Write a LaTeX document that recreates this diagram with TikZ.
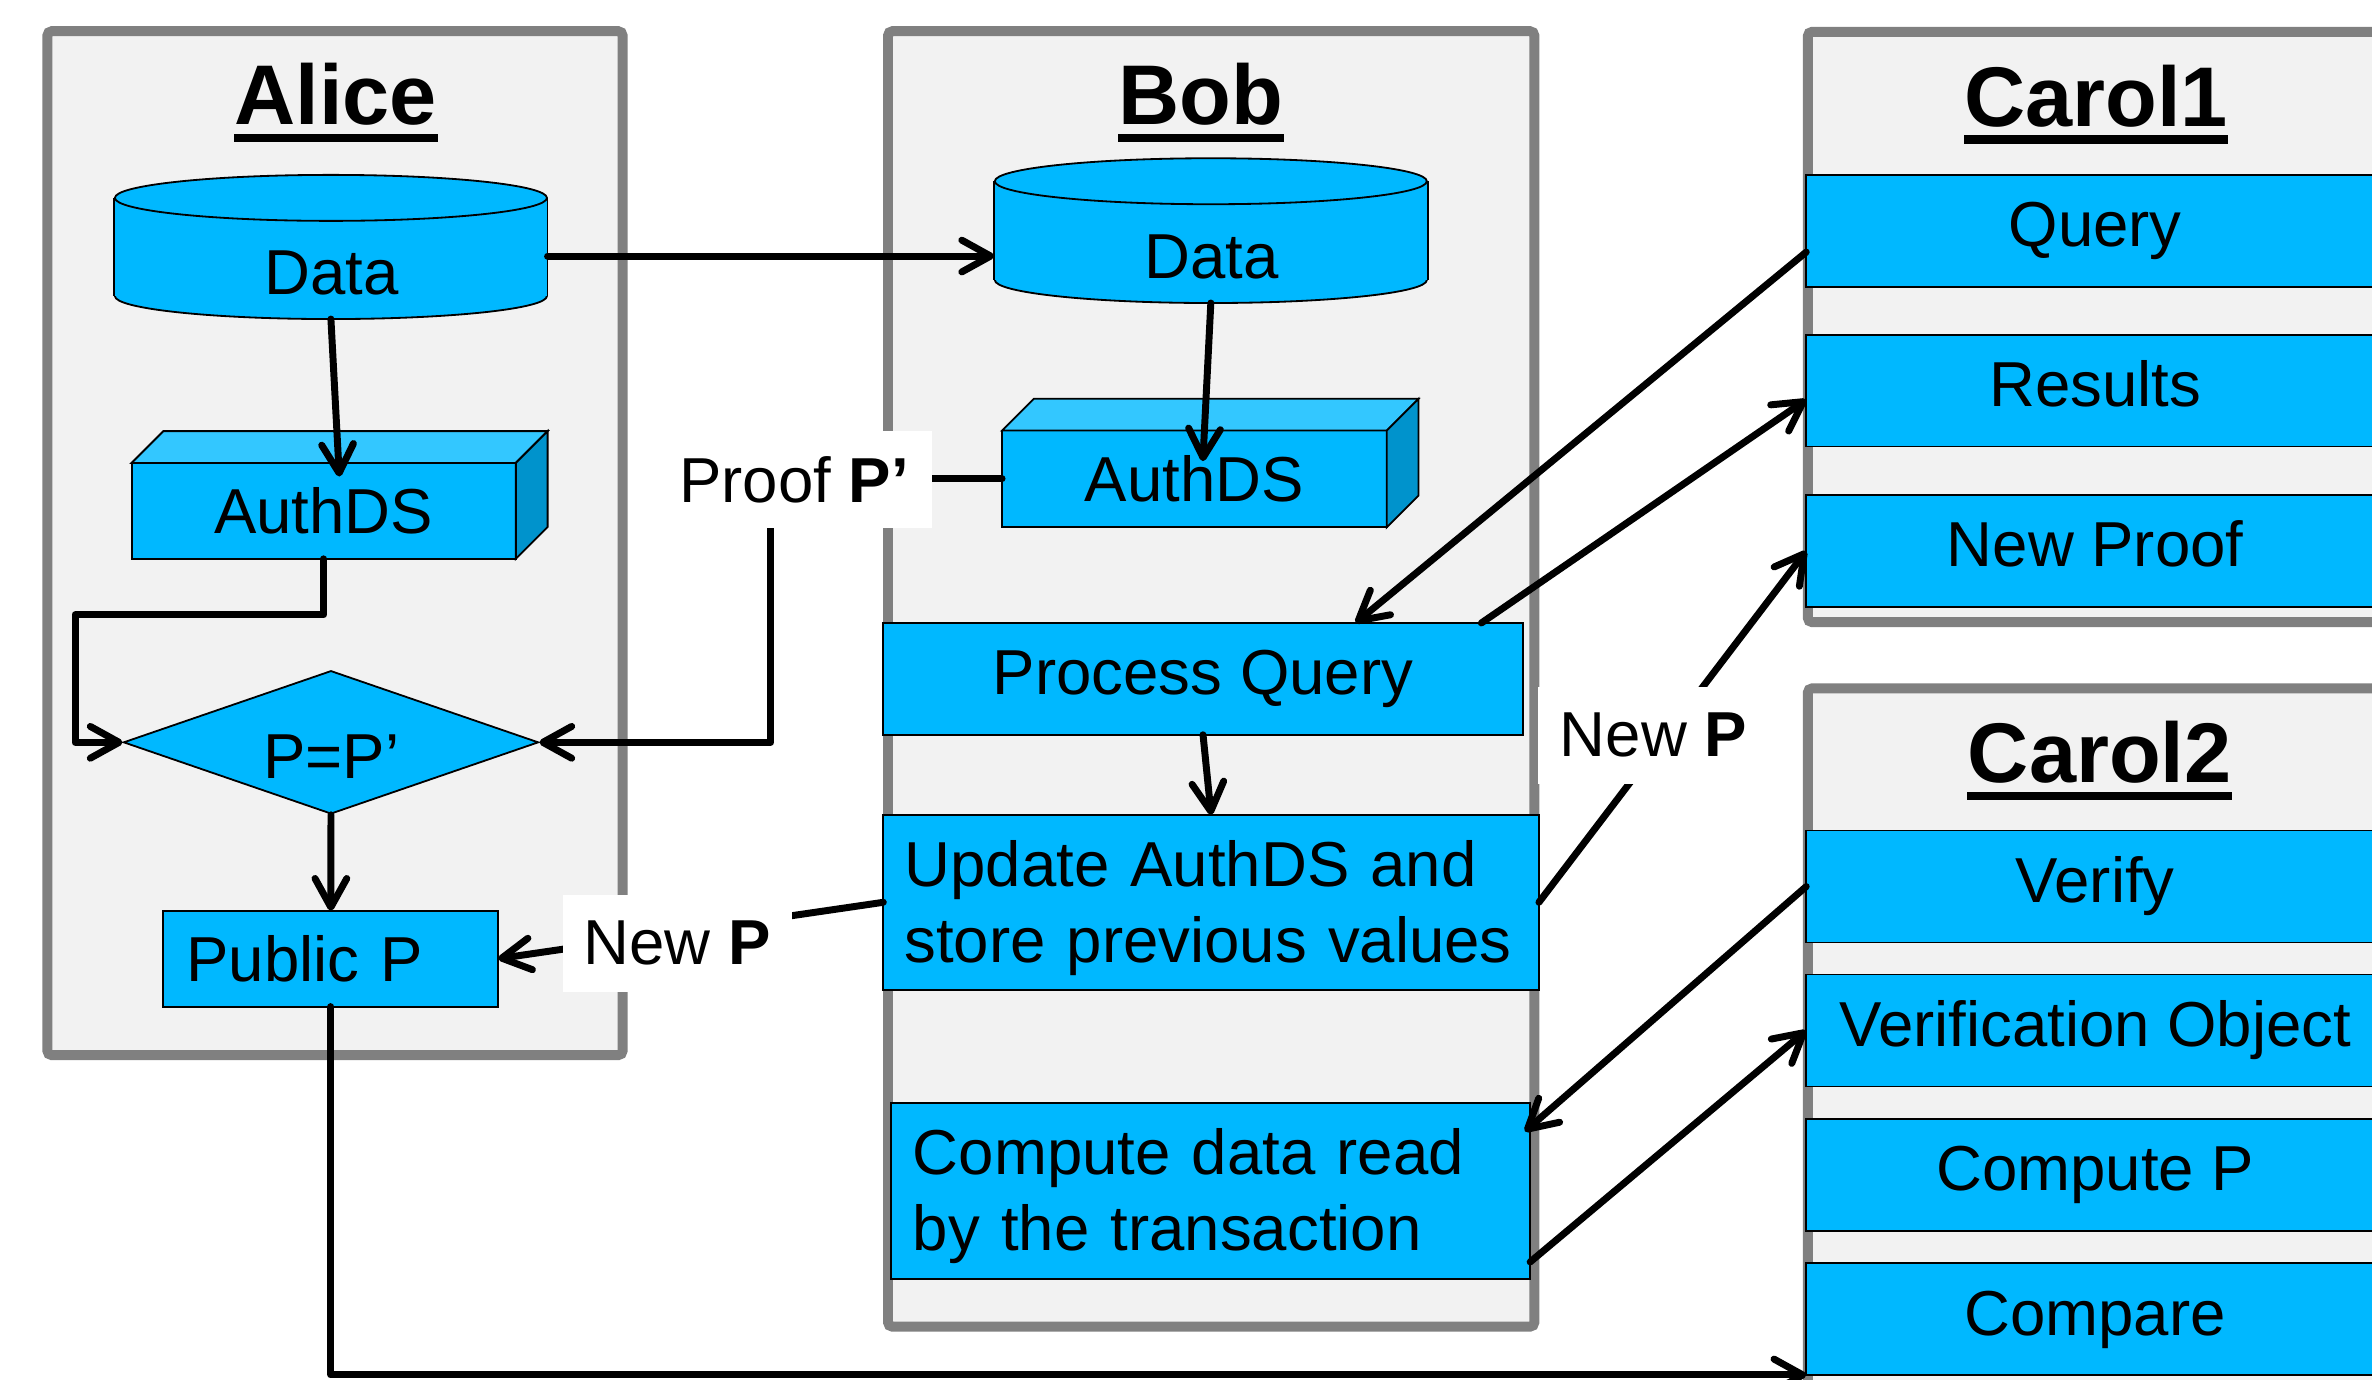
\documentclass[tikz,border=0pt]{standalone}
\usepackage{fontspec}
\setmainfont{Liberation Sans}
\usetikzlibrary{arrows.meta,calc,shapes.geometric}
\definecolor{boxc}{RGB}{0,184,255}
\definecolor{topc}{RGB}{51,199,255}
\definecolor{sidec}{RGB}{0,147,204}
\definecolor{framefill}{RGB}{242,242,242}
\definecolor{framedraw}{RGB}{128,128,128}

\newcommand{\cylfig}[1]{%
  \fill[boxc] ($(#1.south)+(0,-15.2)$) ellipse [x radius=71.4pt, y radius=7.6pt];
  \draw[thinb] ($(#1.south)+(0,-15.2)$) ellipse [x radius=71.4pt, y radius=7.6pt];
  \fill[boxc] ($(#1.north west)+(0,15.2)$) rectangle ($(#1.south east)+(0,-15.2)$);
  \draw[thinb] ($(#1.north west)+(0,15.2)$) -- ($(#1.south west)+(0,-15.2)$);
  \draw[thinb] ($(#1.north east)+(0,15.2)$) -- ($(#1.south east)+(0,-15.2)$);
  \filldraw[thinb, fill=boxc] ($(#1.north)+(0,15.2)$) ellipse [x radius=71.4pt, y radius=7.6pt];
}
\newcommand{\cubefaces}[1]{%
  \filldraw[thinb, fill=topc] (#1.north west) -- ++(21,-21) -- ($(#1.north east)+(21,-21)$) -- (#1.north east) -- cycle;
  \filldraw[thinb, fill=sidec] (#1.north east) -- ++(21,-21) -- ($(#1.south east)+(21,-21)$) -- (#1.south east) -- cycle;
}
\newcommand{\ultitle}[4]{%
  \node[titlef, anchor=base] (#1) at (#2,#3) {#4};
  \fill ([yshift=-3pt]#1.base west) rectangle ([yshift=-5.8pt]#1.base east);
}
\newcommand{\firststrut}{\rule{0pt}{19pt}}

\begin{document}
\begin{tikzpicture}[x=0.5pt,y=-0.5pt,
  frame/.style={draw=framedraw, fill=framefill, line width=3.3pt, rounded corners=1.5pt},
  thinb/.style={draw=black, line width=0.6pt},
  box/.style={thinb, fill=boxc, inner sep=0pt, outer sep=0pt, font=\fontsize{21}{25}\selectfont},
  stepbox/.style={box, text height=15.4pt, text depth=4.8pt},
  txt/.style={inner sep=0pt, font=\fontsize{21}{25}\selectfont},
  lbl/.style={fill=white, inner sep=0pt, minimum height=32pt, font=\fontsize{21}{25}\selectfont},
  titlef/.style={inner sep=0pt, font=\fontsize{28}{32}\selectfont\bfseries},
  arr/.style={line width=2.3pt, line cap=round, line join=round, -{Straight Barb[length=9.5pt,width=10.5pt,round]}}
]
\useasboundingbox (0,0) rectangle (1568,912);
\fill[white] (0,0) rectangle (1568,912);
\clip (0,0) rectangle (1568,912);

% frames
\draw[frame] (31.3,20.6) rectangle (411.6,697.5);
\draw[frame] (587,20.6) rectangle (1014.3,877);
\draw[frame] (1195,21) rectangle (1585,411.3);
\draw[frame] (1195,455) rectangle (1585,960);

% titles
\ultitle{talice}{222}{82.5}{Alice}
\ultitle{tbob}{794}{82.5}{Bob}
\ultitle{tcarolone}{1385.5}{83.5}{Carol1}
\ultitle{tcaroltwo}{1388}{517.4}{Carol2}

% Alice
\node[minimum width=142.8pt, minimum height=47.25pt, inner sep=0pt] (adata) at (218.75,163.25) {};
\cylfig{adata}
\node[txt, anchor=base] (adatat) at (219,194.8) {Data};
\node[box, minimum width=127pt, minimum height=31.7pt] (aauth) at (214,337.7) {AuthDS};
\cubefaces{aauth}
\node[thinb, fill=boxc, shape=diamond, minimum width=137.2pt, minimum height=47.35pt, inner sep=0pt] (dia) at (218.8,490.7) {};
\node[txt, anchor=base] (diat) at (219,514.5) {P=P’};
\node[box, minimum height=31.7pt, text width=95.4pt, inner xsep=7.65pt, align=left] (publicp) at (218.7,633.7) {Public P};

% Bob
\node[minimum width=142.9pt, minimum height=47.45pt, inner sep=0pt] (bdata) at (800.4,152.45) {};
\cylfig{bdata}
\node[txt, anchor=base] (bdatat) at (800.8,184.2) {Data};
\node[box, minimum width=127.15pt, minimum height=32pt] (bauth) at (789.55,316.6) {AuthDS};
\cubefaces{bauth}
\node[stepbox, minimum width=211.35pt, minimum height=36.95pt] (pq) at (795.25,448.75) {Process Query};
\node[box, text width=202.7pt, inner xsep=7pt, minimum height=57.85pt, align=left] (upd) at (800.6,596.45) {\firststrut Update AuthDS and\\store previous values};
\node[box, text width=196.85pt, inner xsep=7.15pt, minimum height=58.15pt, align=left] (comp) at (800.35,787.05) {\firststrut Compute data read\\by the transaction};

% Carol1
\node[stepbox, minimum width=191pt, minimum height=37pt] (query) at (1385,152.6) {Query};
\node[stepbox, minimum width=191pt, minimum height=37pt] (results) at (1385,258.2) {Results};
\node[stepbox, minimum width=191pt, minimum height=37pt] (newproof) at (1385,364.2) {New Proof};
% Carol2
\node[stepbox, minimum width=191pt, minimum height=37pt] (verify) at (1385,586) {Verify};
\node[stepbox, minimum width=191pt, minimum height=37pt] (vobj) at (1385,681.2) {Verification Object};
\node[stepbox, minimum width=191pt, minimum height=37pt] (computep) at (1385,776.5) {Compute P};
\node[stepbox, minimum width=191pt, minimum height=37pt] (compare) at (1385,871.9) {Compare};

% connectors
\coordinate (dl) at ([yshift=-3pt]adata.east);
\draw[arr] (dl) -- (dl -| bdata.west);
\draw[arr] (adata.south) -- ([xshift=5.15pt,yshift=-4.5pt]aauth.north);
\draw[arr] (bdata.south) -- ([xshift=2.8pt,yshift=-10.1pt]bauth.north);
\draw[arr] (aauth.south) -- ++(0,37) -| ($(dia.west)+(-31.4,0)$) -- (dia.west);
\draw[arr] (bauth.west) -- ++(-153,0) |- (dia.east);
\draw[arr] (dia.south) -- (publicp.north);
\draw[arr] (pq.south) -- (upd.north);
\draw[arr] (upd.west) -- (publicp.east);
\draw[arr] (upd.east) -- (newproof.west);
\draw[arr] ([yshift=-7pt]query.west) -- ([xshift=50.4pt]pq.north);
\draw[arr] ([xshift=92pt]pq.north) -- ([yshift=-3pt]results.west);
\draw[arr] (verify.west) -- ($(comp.north east)+(-3.5,19)$);
\draw[arr] ($(comp.south east)+(0,-11)$) -- (vobj.west);
\draw[arr] (publicp.south) |- (compare.south west);

% labels
\node[lbl, minimum width=91pt] (proofl) at (525,317) {Proof \textbf{P’}};
\node[lbl, minimum width=75.8pt] (newpl) at (447.8,623.6) {New \textbf{P}};
\node[lbl, minimum width=76pt] (newpr) at (1093,486) {New \textbf{P}};
\end{tikzpicture}
\end{document}
